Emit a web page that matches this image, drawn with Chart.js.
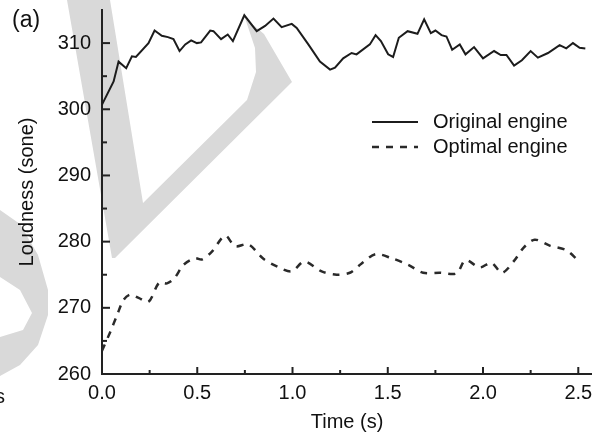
<!DOCTYPE html>
<html>
<head>
<meta charset="utf-8">
<script src="https://cdn.jsdelivr.net/npm/chart.js@4.4.1/dist/chart.umd.min.js"></script>
<style>
  html, body { margin: 0; padding: 0; background: #fff; }
  #wrap { width: 592px; height: 436px; }
</style>
</head>
<body>
<div id="wrap"><canvas id="myChart" width="592" height="436"></canvas></div>
<script>
//* Datos (a)

var tiempoOriginal = [0.000, 0.061, 0.087, 0.127, 0.157, 0.178, 0.244, 0.276, 0.314, 0.346,
  0.375, 0.407, 0.437, 0.468, 0.498, 0.520, 0.568, 0.585, 0.625, 0.660, 0.687, 0.747, 0.812,
  0.856, 0.900, 0.943, 0.996, 1.022, 1.083, 1.144, 1.197, 1.223, 1.266, 1.310, 1.336, 1.406,
  1.436, 1.464, 1.502, 1.528, 1.558, 1.604, 1.656, 1.691, 1.726, 1.750, 1.782, 1.808, 1.838,
  1.878, 1.908, 1.953, 2.000, 2.058, 2.093, 2.123, 2.163, 2.204, 2.250, 2.288, 2.341, 2.402,
  2.437, 2.472, 2.507, 2.537];
var sonoridadOriginal = [300.7, 304.2, 307.2, 306.2, 308.0, 307.9, 310.0, 311.9, 311.1, 310.9,
  310.6, 308.8, 309.8, 310.4, 310.0, 310.1, 311.9, 311.8, 310.6, 311.3, 310.3, 314.2, 311.8,
  312.6, 313.7, 312.4, 312.9, 312.3, 309.8, 307.2, 306.0, 306.3, 307.7, 308.5, 308.3, 309.8,
  311.2, 310.3, 308.3, 307.9, 310.8, 311.8, 311.4, 313.6, 311.5, 311.9, 311.2, 311.0, 309.0,
  309.8, 308.3, 309.4, 307.7, 308.8, 308.2, 308.2, 306.6, 307.4, 308.8, 307.8, 308.5, 309.7,
  309.2, 310.0, 309.3, 309.2];

var tiempoOptimo = [0.000, 0.044, 0.079, 0.113, 0.148, 0.192, 0.244, 0.300, 0.341, 0.381,
  0.428, 0.489, 0.524, 0.577, 0.646, 0.699, 0.768, 0.847, 0.922, 0.996, 1.062, 1.153, 1.232,
  1.301, 1.363, 1.436, 1.520, 1.607, 1.686, 1.773, 1.861, 1.908, 1.983, 2.044, 2.100, 2.166,
  2.210, 2.271, 2.350, 2.437, 2.498];
var sonoridadOptima = [263.5, 266.4, 268.9, 271.2, 272.0, 271.5, 270.9, 273.8, 273.7, 274.5,
  276.5, 277.5, 277.3, 278.5, 280.9, 279.3, 279.6, 277.4, 276.2, 275.5, 277.0, 275.5, 275.0,
  275.3, 276.7, 278.1, 277.5, 276.5, 275.3, 275.3, 275.2, 277.2, 276.1, 276.8, 275.3, 277.2,
  279.0, 280.3, 279.4, 278.7, 277.2];

var nombresSeries = ["Original engine", "Optimal engine"];
var ticksX = [0, 0.5, 1.0, 1.5, 2.0, 2.5];
var ticksMenoresX = [0.25, 0.75, 1.25, 1.75, 2.25];
var ticksY = [260, 270, 280, 290, 300, 310];
var ticksMenoresY = [265, 275, 285, 295, 305];

var fuente = "'Liberation Sans', Arial, sans-serif";
var colorTexto = "#111";

// Une los arreglos x / y en puntos
function puntos(xs, ys) {
  var res = [];
  for (var i = 0; i < xs.length; i++) {
    res.push({ x: xs[i], y: ys[i] });
  }
  return res;
}

// Marca de agua gris del fondo (decorativa)
var marcaAgua = {
  id: "marcaAgua",
  beforeDraw: function (chart) {
    var c = chart.ctx;
    c.save();
    c.fillStyle = "#d9d9d9";
    var formas = [
      [[67, 0], [110, 0], [143, 203], [247, 100], [256, 72], [255, 48], [245, 18], [264, 34],
       [292, 82], [115, 258], [112, 258]],
      [[0, 210], [20, 224], [38, 255], [48, 290], [48, 315], [38, 345], [20, 365], [0, 376],
       [0, 337], [23, 330], [32, 313], [20, 290], [0, 277]]
    ];
    formas.forEach(function (f) {
      c.beginPath();
      c.moveTo(f[0][0], f[0][1]);
      for (var i = 1; i < f.length; i++) c.lineTo(f[i][0], f[i][1]);
      c.closePath();
      c.fill();
    });
    c.restore();
  }
};

// Ticks hacia adentro, leyenda y rotulos
var extras = {
  id: "extras",
  afterDraw: function (chart) {
    var c = chart.ctx;
    var sx = chart.scales.x;
    var sy = chart.scales.y;
    var area = chart.chartArea;
    c.save();
    c.strokeStyle = "#222";
    c.lineWidth = 2;
    function tickX(v, largo) {
      var px = sx.getPixelForValue(v);
      c.beginPath();
      c.moveTo(px, area.bottom);
      c.lineTo(px, area.bottom - largo);
      c.stroke();
    }
    function tickY(v, largo) {
      var py = sy.getPixelForValue(v);
      c.beginPath();
      c.moveTo(area.left, py);
      c.lineTo(area.left + largo, py);
      c.stroke();
    }
    ticksX.forEach(function (v) { tickX(v, 7); });
    ticksMenoresX.forEach(function (v) { tickX(v, 4); });
    ticksY.forEach(function (v) { tickY(v, 8); });
    ticksMenoresY.forEach(function (v) { tickY(v, 5); });

    // leyenda
    c.font = "20px " + fuente;
    c.textBaseline = "middle";
    c.textAlign = "left";
    var filas = [122, 147];
    chart.data.datasets.forEach(function (ds, i) {
      c.strokeStyle = ds.borderColor;
      c.lineWidth = ds.borderWidth;
      c.setLineDash(ds.borderDash || []);
      c.beginPath();
      c.moveTo(372, filas[i]);
      c.lineTo(418, filas[i]);
      c.stroke();
      c.setLineDash([]);
      c.fillStyle = colorTexto;
      c.fillText(ds.label, 433, filas[i]);
    });

    // rotulo del panel y letra cortada del panel vecino
    c.font = "23px " + fuente;
    c.fillText("(a)", 12, 21);
    c.font = "20px " + fuente;
    c.fillText("s", -5, 397);
    c.restore();
  }
};

document.addEventListener("DOMContentLoaded", function () {
  var ctx = document.getElementById("myChart").getContext("2d");

  new Chart(ctx, {
    type: "line",
    data: {
      datasets: [
        {
          label: nombresSeries[0],
          data: puntos(tiempoOriginal, sonoridadOriginal),
          borderColor: "#1c1c1c",
          borderWidth: 2,
          pointRadius: 0,
          tension: 0
        },
        {
          label: nombresSeries[1],
          data: puntos(tiempoOptimo, sonoridadOptima),
          borderColor: "#2a2a2a",
          borderWidth: 2.5,
          borderDash: [7, 7],
          pointRadius: 0,
          tension: 0.3
        }
      ]
    },
    options: {
      responsive: false,
      animation: false,
      devicePixelRatio: 1,
      layout: { padding: { top: 10, left: 0, right: 0, bottom: 0 } },
      plugins: {
        legend: { display: false },
        tooltip: { enabled: false }
      },
      scales: {
        x: {
          type: "linear",
          min: 0,
          max: 2.572,
          grid: { display: false, drawTicks: false },
          border: { display: true, color: "#222", width: 2 },
          afterBuildTicks: function (s) {
            s.ticks = ticksX.map(function (v) { return { value: v }; });
          },
          afterFit: function (s) {
            s.height = 62;
            s.paddingLeft = 0;
            s.paddingRight = 0;
          },
          ticks: {
            padding: 7,
            maxRotation: 0,
            color: colorTexto,
            font: { family: fuente, size: 20 },
            callback: function (v) { return Number(v).toFixed(1); }
          },
          title: {
            display: true,
            text: "Time (s)",
            color: colorTexto,
            font: { family: fuente, size: 20 },
            padding: { top: 0, bottom: 2 }
          }
        },
        y: {
          min: 260,
          max: 315,
          grid: { display: false, drawTicks: false },
          border: { display: true, color: "#222", width: 2 },
          afterBuildTicks: function (s) {
            s.ticks = ticksY.map(function (v) { return { value: v }; });
          },
          afterFit: function (s) {
            s.width = 102;
            s.paddingTop = 0;
            s.paddingBottom = 0;
          },
          ticks: {
            padding: 11,
            color: colorTexto,
            font: { family: fuente, size: 20 }
          },
          title: {
            display: true,
            text: "Loudness (sone)",
            color: colorTexto,
            font: { family: fuente, size: 20 },
            padding: { top: 15, bottom: 0 }
          }
        }
      }
    },
    plugins: [marcaAgua, extras]
  });
});
</script>
</body>
</html>
